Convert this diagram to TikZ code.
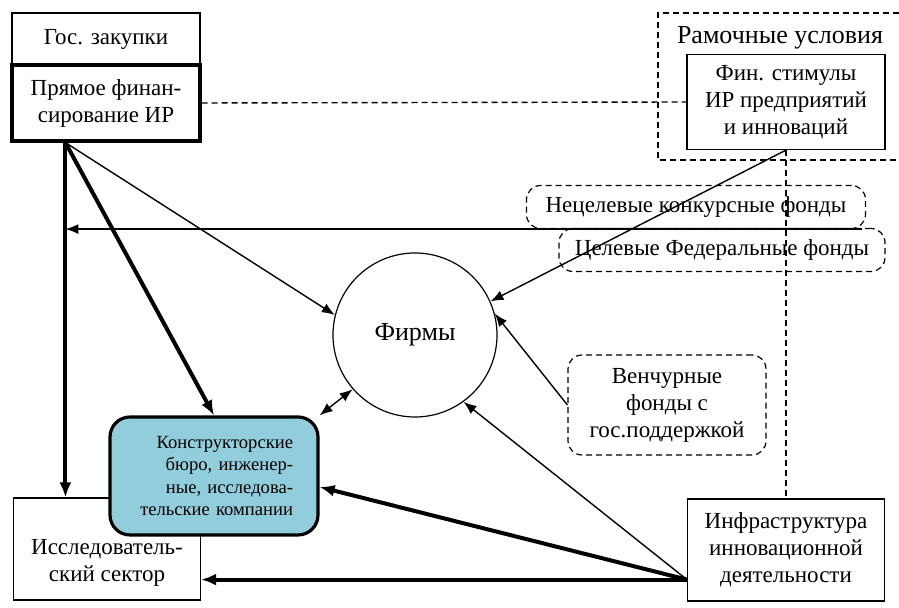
\documentclass[tikz,border=0pt]{standalone}
\usepackage{fontspec}
\setmainfont{Liberation Serif}
\usetikzlibrary{calc,arrows.meta}
\definecolor{buroblue}{HTML}{92CDDC}

\begin{document}
\begin{tikzpicture}[x=0.5pt,y=0.5pt,
  box/.style={draw, line width=0.6pt, align=center, inner sep=2pt,
    font=\fontsize{11.5}{13.5}\selectfont},
  fund/.style={box, dash pattern=on 3pt off 2pt, rounded corners=7pt},
  weakarrow/.style={-{Latex[length=6.5pt,width=5pt]}, line width=0.7pt},
  strongarrow/.style={-{Latex[length=7.5pt,width=6pt]}, line width=2pt}]
\useasboundingbox (0,0) rectangle (899,608);

% frame conditions
\draw[dash pattern=on 3pt off 2pt, line width=0.6pt]
  (899,595) -- (658,595) -- (658,448) -- (899,448);
\node[font=\fontsize{13}{15}\selectfont] (ramoch) at (780,570) {Рамочные условия};

\node[box, minimum width=94pt, minimum height=26pt] (goszak) at (106,569) {Гос. закупки};
\node[box, line width=1.6pt, minimum width=94pt, minimum height=38pt] (pryam) at (106,505)
  {Прямое финан-\\сирование ИР};
\node[box, fill=white, minimum width=99pt, minimum height=47.5pt] (fin) at (786,506)
  {Фин. стимулы\\ИР предприятий\\и инноваций};

\node[fund, minimum width=169.5pt, minimum height=21.5pt] (necel) at (696,401)
  {Нецелевые конкурсные фонды};
\node[fund, minimum width=163pt, minimum height=21.5pt] (celev) at (722,358)
  {Целевые Федеральные фонды};
\node[fund, minimum width=99pt, minimum height=50pt] (vench) at (667,203)
  {Венчурные\\фонды с\\гос.поддержкой};

\node[circle, draw, line width=0.6pt, minimum size=82pt,
  font=\fontsize{13}{15}\selectfont] (firmy) at (415,273) {Фирмы};

\node[box, minimum width=93.5pt, minimum height=51pt] (issled) at (107,59) {};
\node[font=\fontsize{11.5}{13.5}\selectfont, align=center] (issledtext) at (107,45)
  {Исследователь-\\ский сектор};
\node[box, line width=1.6pt, fill=buroblue, rounded corners=10pt, align=right,
  minimum width=104pt, minimum height=59pt, text width=79pt, inner sep=0pt,
  font=\fontsize{9.3}{11.2}\selectfont] (konstr) at (214,132)
  {Конструкторские\\бюро, инженер-\\ные, исследова-\\тельские компании};
\node[box, minimum width=98.5pt, minimum height=51pt] (infra) at (786,58)
  {Инфраструктура\\инновационной\\деятельности};

\coordinate (pout) at ($(pryam.south west)+(55,0)$);
\coordinate (iout) at ($(infra.south west)+(0,22)$);

\draw[dash pattern=on 3pt off 2pt, line width=0.7pt] (pryam.east) -- (fin.west);
\draw[dash pattern=on 3pt off 2pt, line width=0.6pt] (fin.south) -- (infra.north);

\draw[strongarrow] (pout) -- (pout |- issled.north);
\draw[strongarrow] (pout) -- (konstr.north);
\draw[weakarrow] (pout) -- (firmy.166);
\draw[weakarrow] ($(necel.south east)+(-4,0)$) -- (necel.south -| pout);
\draw[weakarrow] (fin.south) -- (firmy.24);
\draw[weakarrow] (vench.west) -- (firmy.15);
\draw[{Latex[length=6.5pt,width=5pt]}-{Latex[length=6.5pt,width=5pt]}, line width=0.7pt]
  (konstr.north east) -- (firmy.221);
\draw[weakarrow] (iout) -- (firmy.-54);
\draw[strongarrow] (iout) -- ($(konstr.east)+(0,-11)$);
\draw[strongarrow] (iout) -- (iout -| issled.east);
\end{tikzpicture}
\end{document}
